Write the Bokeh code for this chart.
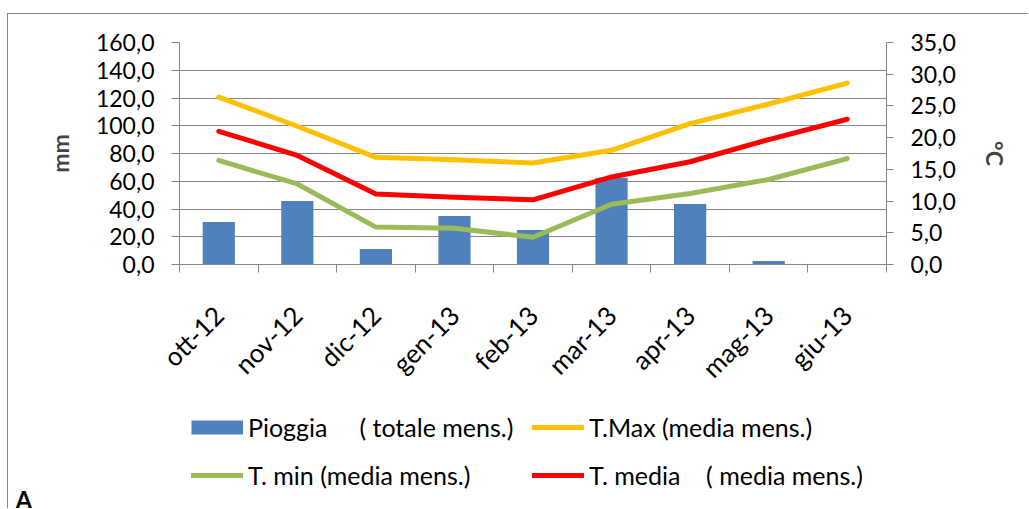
import math
from bokeh.plotting import figure
from bokeh.layouts import column
from bokeh.models import Range1d, LinearAxis, FixedTicker, Legend, LegendItem, Label
from bokeh.embed import file_html
from bokeh.resources import INLINE

# ---- data ----
months = ["ott-12", "nov-12", "dic-12", "gen-13", "feb-13", "mar-13", "apr-13", "mag-13", "giu-13"]
pioggia = [30.6, 45.8, 11.2, 35.0, 24.9, 62.5, 43.6, 2.5, 0.0]      # mm, totale mensile
t_max = [26.4, 21.8, 16.9, 16.5, 16.0, 18.0, 22.2, 25.3, 28.6]      # °C
t_min = [16.4, 12.7, 5.9, 5.7, 4.3, 9.5, 11.2, 13.4, 16.7]          # °C
t_media = [21.0, 17.2, 11.1, 10.6, 10.2, 13.8, 16.2, 19.7, 22.9]    # °C
mm_ticks = [0, 20, 40, 60, 80, 100, 120, 140, 160]
c_ticks = [0, 5, 10, 15, 20, 25, 30, 35]

legend_labels = {
    "pioggia": "Pioggia\u00a0\u00a0\u00a0\u00a0\u00a0( totale mens.)",
    "tmax": "T.Max (media mens.)",
    "tmin": "T. min (media mens.)",
    "tmedia": "T. media\u00a0\u00a0\u00a0\u00a0( media mens.)",
}

FONT = "Lato"
GRAY = "#868686"
BLUE = "#4F81BD"
ORANGE = "#FFC000"
GREEN = "#9BBB59"
RED = "#FF0000"

xs = [i + 0.5 for i in range(len(months))]
fmt = lambda v: f"{v:.1f}".replace(".", ",")

p = figure(width=1020, height=391, output_backend="svg", toolbar_location=None,
           x_range=Range1d(0, len(months)), y_range=Range1d(0, mm_ticks[-1]),
           min_border_left=171, min_border_right=142, min_border_top=28,
           min_border_bottom=141)
p.frame_align = False
p.outline_line_color = None
p.background_fill_color = "white"
p.border_fill_color = "white"

p.extra_y_ranges = {"temp": Range1d(0, c_ticks[-1])}

# grid
p.xgrid.visible = False
p.ygrid.ticker = FixedTicker(ticks=mm_ticks)
p.ygrid.grid_line_color = GRAY
p.ygrid.grid_line_width = 1

# x axis
xa = p.xaxis[0]
xa.ticker = FixedTicker(ticks=xs, minor_ticks=list(range(len(months) + 1)))
xa.major_label_overrides = {x: m for x, m in zip(xs, months)}
xa.major_tick_out = 0
xa.major_tick_in = 0
xa.minor_tick_out = 8
xa.minor_tick_in = 0
xa.minor_tick_line_color = GRAY
xa.axis_line_color = GRAY
xa.major_label_orientation = math.pi / 4
xa.major_label_standoff = 38
xa.major_label_text_font = FONT
xa.major_label_text_font_size = "26px"
xa.major_label_text_color = "black"

# left axis
ya = p.yaxis[0]
ya.ticker = FixedTicker(ticks=mm_ticks)
ya.major_label_overrides = {t: fmt(t) for t in mm_ticks}
ya.minor_tick_out = 0
ya.minor_tick_in = 0
ya.major_tick_out = 8
ya.major_tick_in = 0
ya.major_tick_line_color = GRAY
ya.axis_line_color = GRAY
ya.major_label_standoff = 17
ya.major_label_text_font = FONT
ya.major_label_text_font_size = "23px"
ya.major_label_text_color = "black"
ya.axis_label = "mm"
ya.axis_label_text_font = FONT
ya.axis_label_text_font_style = "bold"
ya.axis_label_text_font_size = "23px"
ya.axis_label_standoff = 19

# right axis
ra = LinearAxis(y_range_name="temp", ticker=FixedTicker(ticks=c_ticks))
ra.major_label_overrides = {t: fmt(t) for t in c_ticks}
ra.minor_tick_out = 0
ra.minor_tick_in = 0
ra.major_tick_out = 7
ra.major_tick_in = 0
ra.major_tick_line_color = GRAY
ra.axis_line_color = GRAY
ra.major_label_standoff = 17
ra.major_label_text_font = FONT
ra.major_label_text_font_size = "23px"
ra.major_label_text_color = "black"
ra.axis_label = "°C"
ra.axis_label_text_font = FONT
ra.axis_label_text_font_style = "bold"
ra.axis_label_text_font_size = "23px"
ra.axis_label_standoff = 22
p.add_layout(ra, "right")

# glyphs
p.vbar(x=xs, top=pioggia, width=0.41, fill_color=BLUE, line_color=None)
p.line(xs, t_max, y_range_name="temp", line_width=5, line_color=ORANGE,
       line_join="round", line_cap="round")
p.line(xs, t_min, y_range_name="temp", line_width=5, line_color=GREEN,
       line_join="round", line_cap="round")
p.line(xs, t_media, y_range_name="temp", line_width=5, line_color=RED,
       line_join="round", line_cap="round")

# ---- legend strip below the chart ----
lp = figure(width=1020, height=103, output_backend="svg", toolbar_location=None,
            x_range=Range1d(0, 1), y_range=Range1d(0, 1),
            x_axis_location=None, y_axis_location=None, min_border=0)
lp.frame_align = False
lp.outline_line_color = None
lp.grid.visible = False
lp.background_fill_color = "white"
lp.border_fill_color = "white"

# hidden renderers that only provide the legend swatches
sw_bar = lp.line(xs, pioggia, line_width=14, line_color=BLUE, line_cap="butt", visible=False)
sw_max = lp.line(xs, t_max, line_width=5, line_color=ORANGE, line_cap="round", visible=False)
sw_min = lp.line(xs, t_min, line_width=5, line_color=GREEN, line_cap="round", visible=False)
sw_med = lp.line(xs, t_media, line_width=5, line_color=RED, line_cap="round", visible=False)


def make_legend(items, loc):
    lg = Legend(items=items, location=loc, orientation="vertical",
                glyph_width=52, glyph_height=30, label_height=30,
                label_standoff=5, spacing=18, padding=0, margin=0,
                border_line_color=None, background_fill_alpha=0,
                label_text_font=FONT, label_text_font_size="25px",
                label_text_color="black")
    lp.add_layout(lg)
    return lg


make_legend([LegendItem(label=legend_labels["pioggia"], renderers=[sw_bar]),
             LegendItem(label=legend_labels["tmin"], renderers=[sw_min])], (183, 18))
make_legend([LegendItem(label=legend_labels["tmax"], renderers=[sw_max]),
             LegendItem(label=legend_labels["tmedia"], renderers=[sw_med])], (524, 18))

lp.add_layout(Label(x=7, y=9, x_units="screen", y_units="screen", text="A",
                    text_font=FONT, text_font_style="bold", text_font_size="24px",
                    text_baseline="alphabetic", text_color="black"))

layout = column(p, lp, spacing=0,
                styles={"position": "relative", "left": "7px", "top": "13px",
                        "border-top": f"1px solid {GRAY}",
                        "border-left": f"1px solid {GRAY}"})

open("out.html", "w").write(file_html(layout, INLINE))
